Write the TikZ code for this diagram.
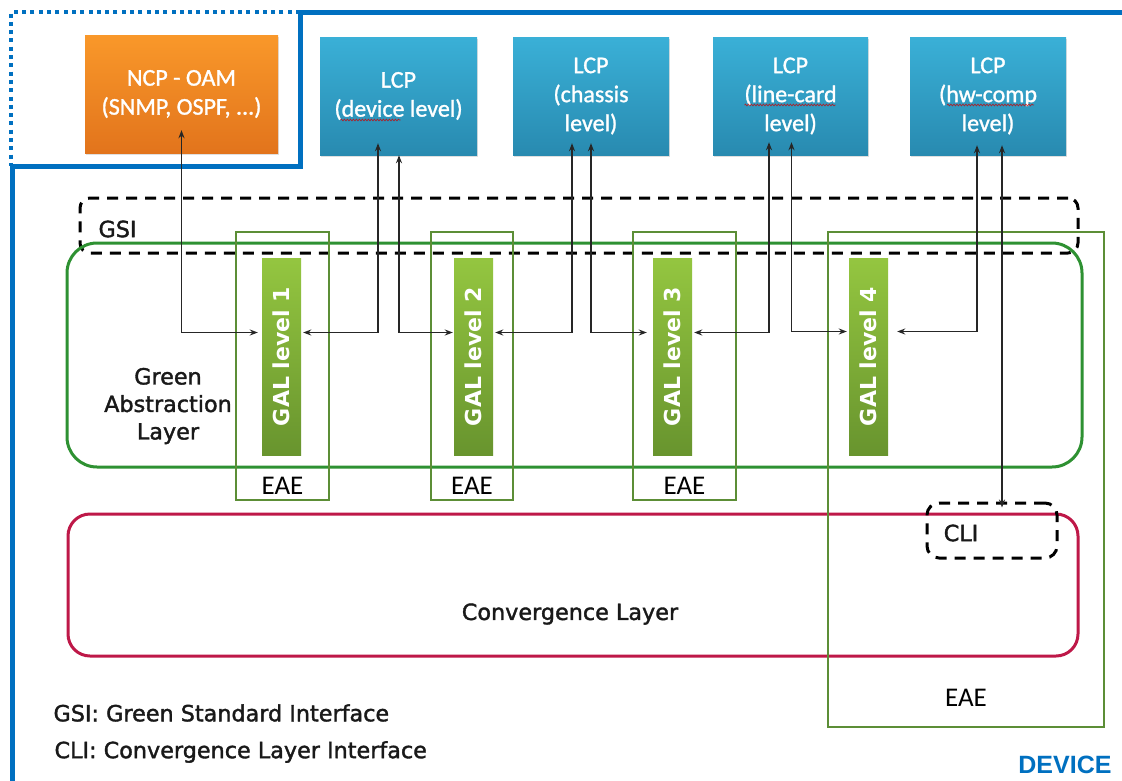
\documentclass[tikz,border=0pt]{standalone}
\usepackage{fontspec}
\setmainfont{Carlito}
\newfontfamily\boxfont[FakeBold=1.2]{Carlito}
\newfontfamily\lblfont[FakeBold=1.6]{DejaVu Sans}
\newfontfamily\galfont{DejaVu Sans}
\newfontfamily\devfont{Liberation Sans}
\usetikzlibrary{arrows.meta,calc,shadows,decorations.pathmorphing}

\definecolor{devblue}{RGB}{0,112,192}
\definecolor{ncptop}{RGB}{249,152,42}
\definecolor{ncpbot}{RGB}{226,116,28}
\definecolor{lcptop}{RGB}{58,176,215}
\definecolor{lcpbot}{RGB}{40,138,176}
\definecolor{galtop}{RGB}{148,198,64}
\definecolor{galbot}{RGB}{104,148,46}
\definecolor{galline}{RGB}{46,145,50}
\definecolor{eaeline}{RGB}{92,142,54}
\definecolor{convline}{RGB}{190,24,72}

\tikzset{
  boxtext/.style={text=white, align=center, font=\boxfont\fontsize{24}{29}\selectfont},
  ncpbox/.style={boxtext, minimum width=193pt, minimum height=118pt,
    top color=ncptop, bottom color=ncpbot,
    drop shadow={opacity=0.25, shadow xshift=1pt, shadow yshift=-2pt}},
  lcpbox/.style={boxtext, minimum width=156pt, minimum height=118pt,
    top color=lcptop, bottom color=lcpbot,
    drop shadow={opacity=0.25, shadow xshift=1pt, shadow yshift=-2pt}},
  galbar/.style={minimum width=39pt, minimum height=197pt,
    top color=galtop, bottom color=galbot},
  galtext/.style={rotate=90, text=white, font=\galfont\bfseries\fontsize{22}{26}\selectfont},
  eaebox/.style={draw=eaeline, line width=1.3pt, minimum height=268pt},
  eaetext/.style={font=\fontsize{27}{32}\selectfont},
  dashbox/.style={draw=black, line width=3pt, dash pattern=on 11pt off 8pt},
  lbl/.style={font=\lblfont\fontsize{22.3}{27.5}\selectfont, text=black!90},
  conn/.style={draw=black!85, line width=1.4pt,
    {Stealth[length=8pt,width=6pt]}-{Stealth[length=8pt,width=6pt]}},
  spell/.style={draw=red!80!black, line width=0.7pt, opacity=0.75,
    decorate, decoration={snake, amplitude=0.9pt, segment length=3pt}}
}

\begin{document}
\begin{tikzpicture}[x=1pt,y=-1pt]
\useasboundingbox (0,0) rectangle (1122,780);
\fill[white] (0,0) rectangle (1122,780);

% device frame: dotted corner around the network control plane, solid elsewhere
\draw[devblue, line width=4pt, dash pattern=on 4pt off 4.3pt] (300,12) -- (11,12) -- (11,166);
\draw[devblue, line width=5pt] (12,784) -- (12,166) -- (300,166) -- (300,12) -- (1126,12);
\node[font=\devfont\bfseries\fontsize{25}{30}\selectfont, text=devblue, anchor=east] (device) at (1115,765) {DEVICE};

% control processes
\node[ncpbox] (ncp) at (181.5,94) {NCP - OAM\\(SNMP, OSPF, ...)};
\node[lcpbox, minimum width=157pt] (lcp1) at (398.5,96) {LCP\\(device level)};
\node[lcpbox] (lcp2) at (591,96) {LCP\\(chassis\\level)};
\node[lcpbox, minimum width=155pt] (lcp3) at (790.5,96) {LCP\\(line-card\\level)};
\node[lcpbox] (lcp4) at (988,96) {LCP\\(hw-comp\\level)};

% spell-check marks
\draw[spell] ($(lcp1)+(-58,24)$) -- ($(lcp1)+(2,24)$);
\draw[spell] ($(lcp3)+(-46,9)$) -- ($(lcp3)+(45,9)$);
\draw[spell] ($(lcp4)+(-41,9)$) -- ($(lcp4)+(46,9)$);

% green standard interface
\node[dashbox, rounded corners=10pt, minimum width=998pt, minimum height=55pt] (gsi) at (579,225.5) {};
\node[lbl, anchor=west] (gsilbl) at (95,229) {GSI};

% green abstraction layer
\node[draw=galline, line width=3pt, rounded corners=30pt, minimum width=1015pt, minimum height=224pt] (gal) at (574.5,355) {};
\node[lbl, align=center] (gallbl) at (168,406) {Green\\Abstraction\\Layer};

% GAL levels
\node[galbar] (gal1) at (281.5,356.5) {};
\node[galbar] (gal2) at (473.5,356.5) {};
\node[galbar] (gal3) at (672.5,356.5) {};
\node[galbar] (gal4) at (868.5,356.5) {};
\foreach \i in {1,...,4} { \node[galtext] (galt\i) at (gal\i) {GAL level \i}; }

% convergence layer
\node[draw=convline, line width=3pt, rounded corners=22pt, minimum width=1010pt, minimum height=142pt] (conv) at (573,585) {};
\node[lbl] (convlbl) at (570,614) {Convergence Layer};
\node[dashbox, rounded corners=12pt, minimum width=130pt, minimum height=55pt] (cli) at (992,530.5) {};
\node[lbl] (clilbl) at (961,533) {CLI};

% energy aware entities
\node[eaebox, minimum width=93pt] (eae1) at (282.5,366) {};
\node[eaebox, minimum width=82pt] (eae2) at (472,366) {};
\node[eaebox, minimum width=103pt] (eae3) at (684.5,366) {};
\node[eaebox, minimum width=276pt, minimum height=495pt] (eae4) at (966,479.5) {};
\node[eaetext] at ([yshift=15pt]eae1.south) {EAE};
\node[eaetext] at ([yshift=15pt]eae2.south) {EAE};
\node[eaetext] at ([yshift=15pt]eae3.south) {EAE};
\node[eaetext] at ([yshift=30pt]eae4.south) {EAE};

% connections between control processes and GAL levels
\draw[conn] ([yshift=23pt]ncp.south) |- ([xshift=-4pt,yshift=24pt]gal1.west);
\draw[conn] ([xshift=-20.5pt,yshift=12pt]lcp1.south) |- ([xshift=2pt,yshift=24pt]gal1.east);
\draw[conn] ([xshift=0.5pt]lcp1.south) |- ([xshift=-1pt,yshift=24pt]gal2.west);
\draw[conn] ([xshift=-19pt,yshift=12pt]lcp2.south) |- ([xshift=2pt,yshift=24pt]gal2.east);
\draw[conn] ([yshift=12pt]lcp2.south) |- ([xshift=-6pt,yshift=24pt]gal3.west);
\draw[conn] ([xshift=-21.5pt,yshift=13pt]lcp3.south) |- ([xshift=2pt,yshift=24pt]gal3.east);
\draw[conn] ([xshift=1pt,yshift=13pt]lcp3.south) |- ([xshift=-2pt,yshift=25pt]gal4.west);
\draw[conn] ([xshift=-11pt,yshift=10pt]lcp4.south) |- ([xshift=9pt,yshift=25pt]gal4.east);
\coordinate (t4) at ([xshift=14pt,yshift=10pt]lcp4.south);
\draw[conn] (t4) -- ($(t4 |- cli.north)+(0,6)$);

% legend
\node[lbl, anchor=west] (leg1) at (50,713) {GSI: Green Standard Interface};
\node[lbl, anchor=west] (leg2) at (51,752) {CLI: Convergence Layer Interface};
\end{tikzpicture}
\end{document}
